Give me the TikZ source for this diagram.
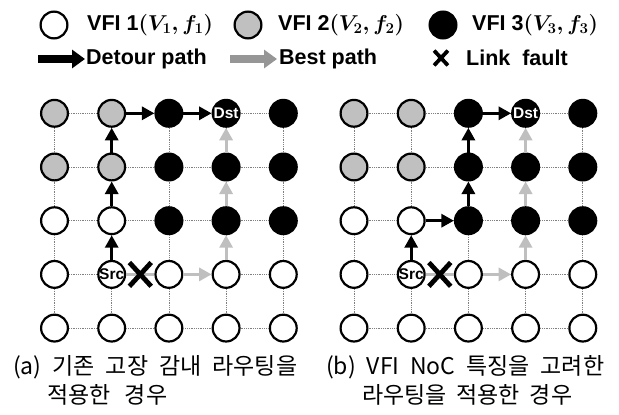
\documentclass[tikz,border=0pt]{standalone}
\usepackage{fix-cm}
\usepackage{fontspec}
\setmainfont{Liberation Sans}
\newfontfamily\krfont{Noto Sans CJK KR}
\usetikzlibrary{arrows.meta,shapes.misc}
\definecolor{vgray}{RGB}{192,192,192}
\definecolor{bestgray}{RGB}{191,191,191}
\definecolor{leggray}{RGB}{150,150,150}
\tikzset{
  pe/.style={circle, draw=black, line width=2.2pt, minimum size=26.8pt, inner sep=0pt},
  va/.style={pe, fill=white},
  vb/.style={pe, fill=vgray},
  vc/.style={pe, fill=black},
  gridline/.style={densely dotted, draw=gray, line width=0.8pt},
  detour/.style={line width=3pt, draw=black, -{Triangle[length=12.5pt,width=13pt]}},
  best/.style={line width=3pt, draw=bestgray, -{Triangle[length=12.5pt,width=13pt]}},
  bestline/.style={line width=3pt, draw=bestgray},
  faultx/.style={cross out, draw=black, line width=4.8pt, minimum width=17pt, minimum height=19pt, inner sep=0pt},
  legtext/.style={anchor=west, inner sep=0pt, font=\fontsize{21.5}{25}\selectfont\bfseries\boldmath},
  lbl/.style={inner sep=0pt, font=\fontsize{15.5}{17}\selectfont\bfseries},
  captext/.style={anchor=west, inner sep=0pt, font=\krfont\fontsize{23}{27}\selectfont},
}
\begin{document}
\begin{tikzpicture}[x=1pt, y=-1pt]
\fill[white] (0,0) rectangle (619,415);
\useasboundingbox (0,0) rectangle (619,415);

% ---------- legend ----------
\node[va] (k1) at (54,25) {};
\node[legtext] (t1) at (87,25) {VFI 1$(V_1,f_1)$};
\node[vb] (k2) at (248,25) {};
\node[legtext] (t2) at (278,25) {VFI 2$(V_2,f_2)$};
\node[vc] (k3) at (443,25) {};
\node[legtext] (t3) at (472,25) {VFI 3$(V_3,f_3)$};

\coordinate (a1s) at (38,59);
\coordinate (a1e) at (85,59);
\draw[line width=7.5pt, draw=black, -{Triangle[length=13pt,width=18pt]}] (a1s) -- (a1e);
\node[legtext] (t4) at (86,59) {Detour path};
\coordinate (a2s) at (230,59);
\coordinate (a2e) at (277,59);
\draw[line width=7.5pt, draw=leggray, -{Triangle[length=13pt,width=18pt]}] (a2s) -- (a2e);
\node[legtext] (t5) at (279,59) {Best path};
\node[cross out, draw=black, line width=3.8pt, minimum width=10pt, minimum height=11pt, inner sep=0pt] (k6) at (441,58) {};
\node[legtext] (t6) at (466,58) {Link\ \ fault};

% ---------- grids ----------
\foreach \g/\ox in {L/54.5, R/354} {
  \foreach \r/\styles in {0/{vb,vb,vc,vc,vc}, 1/{vb,vb,vc,vc,vc}, 2/{va,va,vc,vc,vc}, 3/{va,va,va,va,va}, 4/{va,va,va,va,va}} {
    \foreach \s [count=\c from 0] in \styles {
      \node[\s] (\g-\r-\c) at ({\ox+\c*57.2},{113.3+\r*53.7}) {};
    }
  }
  % dotted mesh
  \foreach \r in {0,...,4} {
    \foreach \c [evaluate=\c as \cn using int(\c+1)] in {0,...,3} {
      \draw[gridline] (\g-\r-\c) -- (\g-\r-\cn);
      \draw[gridline] (\g-\c-\r) -- (\g-\cn-\r);
    }
  }
  \node[lbl, text=black] (\g-src) at (\g-3-1) {Src};
  \node[lbl, text=white] (\g-dst) at (\g-0-3) {Dst};
  % best path
  \draw[bestline] (\g-3-1) -- (\g-3-2);
  \draw[best] (\g-3-2) -- (\g-3-3);
  \draw[best] (\g-3-3) -- (\g-2-3);
  \draw[best] (\g-2-3) -- (\g-1-3);
  \draw[best] (\g-1-3) -- (\g-0-3);
  % link fault
  \path (\g-3-1) -- (\g-3-2) node[midway, faultx] (\g-fault) {};
}

% detour path (a)
\draw[detour] (L-3-1) -- (L-2-1);
\draw[detour] (L-2-1) -- (L-1-1);
\draw[detour] (L-1-1) -- (L-0-1);
\draw[detour] (L-0-1) -- (L-0-2);
\draw[detour] (L-0-2) -- (L-0-3);

% detour path (b)
\draw[detour] (R-3-1) -- (R-2-1);
\draw[detour] (R-2-1) -- (R-2-2);
\draw[detour] (R-2-2) -- (R-1-2);
\draw[detour] (R-1-2) -- (R-0-2);
\draw[detour] (R-0-2) -- (R-0-3);

% ---------- captions ----------
\node[captext] (ca1) at (13,367) {\makebox[284pt][s]{(a) 기존 고장 감내 라우팅을}};
\node[captext] (ca2) at (47,395) {\makebox[120pt][s]{적용한 경우}};
\node[captext] (cb1) at (326,367) {\makebox[278pt][s]{(b) VFI NoC 특징을 고려한}};
\node[captext] (cb2) at (362,395) {\makebox[210pt][s]{라우팅을 적용한 경우}};
\end{tikzpicture}
\end{document}
